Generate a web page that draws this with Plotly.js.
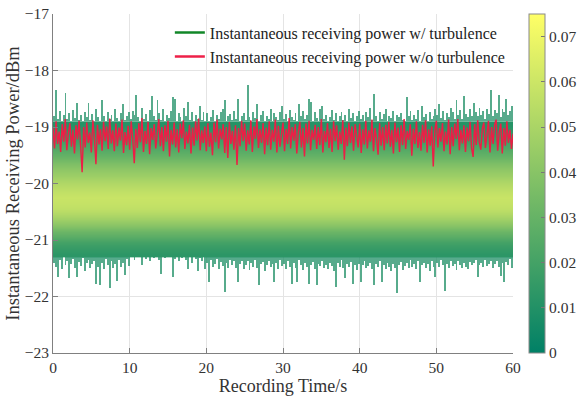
<!DOCTYPE html>
<html>
<head>
<meta charset="utf-8">
<script src="https://cdn.plot.ly/plotly-3.0.1.min.js"></script>
<style>html,body{margin:0;padding:0;background:#fff;}#chart{width:577px;height:397px;}</style>
</head>
<body>
<div id="chart"></div>
<script>
// ---- data ----
// red series: instantaneous receiving power w/o turbulence, sampled every 0.2 s (0..60 s)
const redPower = [
-19.02,-19.38,-18.90,-19.30,-19.08,-19.44,-18.95,-19.26,-18.86,-19.41,-19.12,-18.93,-19.35,-19.05,-19.47,-18.97,-19.22,-18.89,-19.33,-19.80,
-19.00,-19.36,-18.92,-19.28,-19.10,-19.45,-18.88,-19.19,-19.66,-18.96,-19.31,-19.04,-19.42,-18.91,-19.25,-18.99,-19.39,-18.85,-19.29,-19.06,
-19.43,-18.94,-19.34,-19.01,-19.24,-18.87,-19.46,-19.09,-19.32,-18.98,-19.40,-18.90,-19.21,-19.64,-19.03,-19.37,-18.93,-19.27,-18.84,-19.44,
-19.07,-19.30,-18.91,-19.48,-19.02,-19.23,-18.95,-19.38,-19.11,-18.86,-19.34,-19.00,-19.43,-18.97,-19.26,-18.89,-19.52,-19.05,-19.31,-18.92,
-19.36,-19.04,-19.45,-18.94,-19.20,-18.88,-19.39,-19.08,-19.29,-18.96,-19.47,-19.01,-19.33,-18.90,-19.24,-18.85,-19.41,-19.06,-19.28,-18.99,
-19.43,-18.93,-19.35,-19.10,-19.50,-18.92,-19.27,-18.87,-19.38,-19.03,-19.22,-18.95,-19.46,-19.00,-19.55,-18.91,-19.30,-19.07,-19.40,-18.97,
-19.67,-19.02,-19.34,-18.89,-19.25,-18.94,-19.42,-19.06,-19.31,-18.88,-19.44,-18.99,-19.21,-18.86,-19.37,-19.04,-19.28,-18.93,-19.48,-19.01,
-19.32,-18.90,-19.40,-19.05,-19.26,-18.87,-19.45,-18.98,-19.35,-19.09,-18.92,-19.43,-19.03,-19.30,-18.84,-19.38,-19.00,-19.24,-18.95,-19.47,
-19.08,-18.91,-19.36,-19.02,-19.52,-18.94,-19.29,-18.89,-19.41,-19.05,-19.23,-18.96,-19.39,-19.00,-19.32,-18.86,-19.45,-19.07,-19.27,-18.93,
-19.37,-19.03,-19.44,-18.90,-19.25,-18.97,-19.40,-19.08,-19.30,-18.88,-19.58,-19.01,-19.34,-18.92,-19.28,-18.99,-19.42,-18.95,-19.22,-19.36,
-18.94,-19.46,-19.04,-19.31,-18.89,-19.38,-19.06,-19.26,-18.87,-19.43,-19.02,-19.20,-19.49,-18.93,-19.33,-19.00,-19.41,-18.96,-19.29,-18.91,
-19.35,-19.05,-19.47,-18.92,-19.27,-19.01,-19.44,-18.97,-19.32,-18.86,-19.39,-19.07,-19.23,-18.95,-19.51,-19.03,-19.30,-18.90,-19.37,-19.09,
-19.42,-18.96,-19.28,-18.88,-19.45,-19.04,-19.33,-18.99,-19.70,-19.06,-18.89,-19.36,-19.02,-19.26,-18.93,-19.43,-19.08,-19.31,-18.87,-19.48,
-19.00,-19.34,-18.94,-19.21,-18.86,-19.41,-19.05,-19.29,-18.97,-19.44,-19.01,-19.25,-18.91,-19.38,-19.53,-18.95,-19.32,-18.88,-19.27,-19.40,
-19.03,-18.92,-19.37,-19.07,-18.89,-19.45,-19.00,-19.30,-18.96,-18.87,-19.42,-19.10,-18.94,-19.47,-19.02,-19.33,-18.90,-19.28,-19.05,-19.39,
-19.12];
const redStep = 0.2;

// green series (w/ turbulence): upper and lower envelope of the band, every 0.25 s
const greenTop = [
-18.80,-18.35,-18.85,-18.72,-18.90,-18.78,-18.40,-18.86,-18.75,-18.92,-18.70,-18.84,-18.58,-18.88,-18.79,-18.93,-18.74,-18.82,-18.57,-18.87,
-18.77,-18.91,-18.68,-18.83,-18.89,-18.53,-18.80,-18.94,-18.73,-18.86,-18.78,-18.90,-18.69,-18.84,-18.92,-18.76,-18.60,-18.88,-18.81,-18.74,
-18.86,-18.71,-18.79,-18.44,-18.83,-18.90,-18.66,-18.85,-18.77,-18.92,-18.70,-18.45,-18.81,-18.88,-18.53,-18.75,-18.87,-18.68,-18.91,-18.79,
-18.84,-18.72,-18.47,-18.50,-18.89,-18.76,-18.82,-18.93,-18.67,-18.80,-18.56,-18.87,-18.74,-18.91,-18.78,-18.85,-18.62,-18.88,-18.73,-18.90,
-18.76,-18.89,-18.83,-18.70,-18.92,-18.79,-18.86,-18.74,-18.68,-18.53,-18.90,-18.81,-18.77,-18.88,-18.72,-18.85,-18.50,-18.91,-18.80,-18.75,
-18.87,-18.26,-18.82,-18.93,-18.73,-18.84,-18.60,-18.89,-18.78,-18.71,-18.92,-18.80,-18.86,-18.69,-18.90,-18.76,-18.83,-18.88,-18.74,-18.62,
-18.85,-18.77,-18.91,-18.70,-18.82,-18.88,-18.75,-18.93,-18.60,-18.81,-18.72,-18.86,-18.79,-18.50,-18.55,-18.89,-18.74,-18.84,-18.90,-18.68,
-18.62,-18.86,-18.78,-18.91,-18.83,-18.70,-18.88,-18.75,-18.92,-18.80,-18.73,-18.87,-18.79,-18.90,-18.68,-18.84,-18.76,-18.89,-18.81,-18.72,
-18.85,-18.79,-18.90,-18.74,-18.83,-18.66,-18.88,-18.42,-18.81,-18.92,-18.73,-18.86,-18.77,-18.69,-18.89,-18.80,-18.84,-18.71,-18.91,-18.78,
-18.82,-18.75,-18.87,-18.93,-18.47,-18.80,-18.72,-18.88,-18.79,-18.85,-18.70,-18.90,-18.62,-18.83,-18.77,-18.89,-18.74,-18.86,-18.81,-18.69,
-18.78,-18.60,-18.84,-18.71,-18.88,-18.76,-18.82,-18.67,-18.74,-18.86,-18.53,-18.79,-18.70,-18.85,-18.45,-18.77,-18.83,-18.68,-18.80,-18.58,
-18.74,-18.81,-18.66,-18.79,-18.72,-18.85,-18.69,-18.77,-18.35,-18.80,-18.70,-18.76,-18.44,-18.82,-18.68,-18.73,-18.50,-18.78,-18.71,-18.62];
const greenBottom = [
-21.40,-21.48,-21.65,-21.35,-21.52,-21.30,-21.44,-21.38,-21.68,-21.42,-21.33,-21.50,-21.65,-21.39,-21.46,-21.31,-21.55,-21.41,-21.36,-21.49,
-21.43,-21.37,-21.78,-21.47,-21.80,-21.40,-21.52,-21.34,-21.45,-21.85,-21.38,-21.50,-21.42,-21.72,-21.36,-21.48,-21.41,-21.62,-21.33,-21.46,
-21.28,-21.22,-21.35,-21.25,-21.30,-21.20,-21.45,-21.27,-21.33,-21.23,-21.38,-21.26,-21.31,-21.21,-21.29,-21.36,-21.61,-21.24,-21.32,-21.27,
-21.30,-21.25,-21.65,-21.34,-21.28,-21.38,-21.23,-21.32,-21.27,-21.36,-21.52,-21.29,-21.40,-21.26,-21.33,-21.55,-21.31,-21.37,-21.28,-21.52,
-21.40,-21.74,-21.36,-21.48,-21.43,-21.34,-21.52,-21.39,-21.46,-21.92,-21.41,-21.50,-21.35,-21.44,-21.38,-21.49,-21.74,-21.42,-21.37,-21.51,
-21.45,-21.38,-21.53,-21.41,-21.47,-21.36,-21.50,-21.80,-21.43,-21.39,-21.55,-21.44,-21.37,-21.48,-21.42,-21.74,-21.40,-21.51,-21.35,-21.46,
-21.43,-21.52,-21.38,-21.47,-21.77,-21.41,-21.49,-21.75,-21.36,-21.45,-21.53,-21.40,-21.48,-21.77,-21.44,-21.39,-21.51,-21.80,-21.42,-21.46,
-21.37,-21.49,-21.44,-21.52,-21.40,-21.46,-21.55,-21.83,-21.41,-21.48,-21.36,-21.50,-21.68,-21.43,-21.47,-21.39,-21.77,-21.45,-21.53,-21.42,
-21.75,-21.44,-21.38,-21.50,-21.46,-21.41,-21.52,-21.80,-21.43,-21.48,-21.37,-21.74,-21.45,-21.51,-21.40,-21.47,-21.55,-21.42,-21.49,-21.94,
-21.44,-21.39,-21.53,-21.46,-21.41,-21.50,-21.36,-21.48,-21.43,-21.52,-21.38,-21.74,-21.45,-21.40,-21.49,-21.42,-21.54,-21.37,-21.47,-21.65,
-21.41,-21.48,-21.36,-21.45,-21.90,-21.43,-21.50,-21.38,-21.46,-21.42,-21.53,-21.37,-21.44,-21.49,-21.40,-21.47,-21.52,-21.39,-21.45,-21.41,
-21.36,-21.65,-21.44,-21.40,-21.48,-21.35,-21.46,-21.42,-21.38,-21.50,-21.43,-21.37,-21.47,-21.63,-21.41,-21.75,-21.39,-21.45,-21.34,-21.50];
const envStep = 0.25;

// density (colour value) of the band versus power level
const densityLevels = [-21.25,-21.15,-21.05,-20.95,-20.85,-20.75,-20.65,-20.55,-20.45,-20.35,-20.25,-20.15,
                       -20.05,-19.95,-19.85,-19.75,-19.65,-19.55,-19.45,-19.35,-19.25,-19.15,-19.05,-18.95];
const densityValues = [0.013,0.016,0.020,0.026,0.032,0.039,0.046,0.052,0.056,0.058,0.059,0.057,
                       0.054,0.050,0.046,0.042,0.037,0.032,0.027,0.023,0.019,0.016,0.013,0.011];

const xTicks = [0,10,20,30,40,50,60];
const yTicks = [-23,-22,-21,-20,-19,-18,-17];
const cbTicks = [0,0.01,0.02,0.03,0.04,0.05,0.06,0.07];
const cbLabels = ['0','0.01','0.02','0.03','0.04','0.05','0.06','0.07'];
const nameW = 'Instantaneous receiving power w/ turbulence';
const nameWo = 'Instantaneous receiving power w/o turbulence';

// ---- build traces ----
const tRed = redPower.map((_, i) => i * redStep);
const tEnv = greenTop.map((_, i) => i * envStep + envStep / 2);
const half = (densityLevels[1] - densityLevels[0]) / 2;
const coreTop = densityLevels[densityLevels.length - 1] + half;
const coreBot = densityLevels[0] - half;

const summer = [[0, 'rgb(0,128,102)'], [1, 'rgb(255,255,102)']];
const serif = '"Liberation Serif", "DejaVu Serif", serif';
const spikeColor = 'rgba(22,138,96,0.72)';

const heat = {
  type: 'heatmap',
  x: [0, 60],
  y: densityLevels,
  z: densityValues.map(v => [v, v]),
  zmin: 0, zmax: 0.075,
  zsmooth: 'best',
  colorscale: summer,
  showlegend: false,
  hoverinfo: 'skip',
  colorbar: {
    x: 1.0348, xanchor: 'left', xpad: 0,
    y: 0.5, yanchor: 'middle', ypad: 0,
    len: 1, lenmode: 'fraction',
    thickness: 16,
    outlinewidth: 1, outlinecolor: '#8a8a8a',
    ticks: 'inside', ticklen: 4, tickcolor: '#777',
    tickvals: cbTicks, ticktext: cbLabels,
    tickfont: {family: serif, size: 15.5, color: '#333'}
  }
};

const topBars = {
  type: 'bar',
  x: tEnv,
  base: greenTop.map(() => coreTop),
  y: greenTop.map(v => Math.max(0, v - coreTop)),
  width: envStep,
  marker: {color: spikeColor, line: {width: 0}},
  showlegend: false, hoverinfo: 'skip'
};
const botBars = {
  type: 'bar',
  x: tEnv,
  base: greenBottom,
  y: greenBottom.map(v => Math.max(0, coreBot - v)),
  width: envStep,
  marker: {color: spikeColor, line: {width: 0}},
  showlegend: false, hoverinfo: 'skip'
};

// legend entries
const legendW = {
  type: 'scatter', mode: 'lines', x: [null], y: [null],
  name: nameW, line: {color: 'rgb(18,135,40)', width: 2.5}
};
const legendWo = {
  type: 'scatter', mode: 'lines', x: [null], y: [null],
  name: nameWo, line: {color: 'rgb(238,32,72)', width: 2.5}
};
const red = {
  type: 'scatter', mode: 'lines',
  x: tRed, y: redPower,
  name: nameWo, showlegend: false,
  line: {color: 'rgb(236,30,70)', width: 1.4}
};

const axisCommon = {
  showgrid: true, gridcolor: '#e4e4e4', gridwidth: 1,
  showline: true, linecolor: '#808080', linewidth: 1,
  ticks: 'inside', ticklen: 5, tickcolor: '#808080',
  zeroline: false, mirror: false,
  tickfont: {family: serif, size: 15.5, color: '#333'}
};

const layout = {
  width: 577, height: 397,
  margin: {l: 53, r: 64, t: 14, b: 44, autoexpand: false},
  paper_bgcolor: '#fff', plot_bgcolor: '#fff',
  barmode: 'overlay', bargap: 0,
  xaxis: Object.assign({}, axisCommon, {
    range: [0, 60], tickvals: xTicks,
    title: {text: 'Recording Time/s', font: {family: serif, size: 18, color: '#333'}, standoff: 2}
  }),
  yaxis: Object.assign({}, axisCommon, {
    range: [-23, -17], tickvals: yTicks,
    title: {text: 'Instantaneous Receiving Power/dBm', font: {family: serif, size: 18.5, color: '#333'}, standoff: 0}
  }),
  legend: {
    x: 0.254, xanchor: 'left', y: 0.995, yanchor: 'top',
    bgcolor: 'rgba(255,255,255,0)', borderwidth: 0,
    font: {family: serif, size: 16, color: '#222'},
    tracegroupgap: 0, itemwidth: 30
  },
  showlegend: true
};

Plotly.newPlot('chart', [heat, topBars, botBars, legendW, legendWo, red], layout, {displayModeBar: false, staticPlot: true});
</script>
</body>
</html>
